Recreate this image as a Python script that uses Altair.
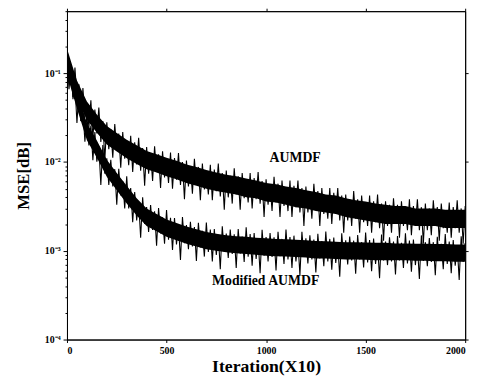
import altair as alt
import pandas as pd

iterations = list(range(0, 2001, 10))

aumdf = [
    0.21, 0.086, 0.125, 0.054, 0.116, 0.052, 0.075, 0.029, 0.068, 0.0315, 0.0456,
    0.0245, 0.0495, 0.0186, 0.039, 0.021, 0.041, 0.0168, 0.029, 0.0105, 0.028,
    0.0139, 0.0233, 0.0112, 0.0268, 0.0134, 0.0209, 0.0086, 0.0218, 0.0109, 0.0168,
    0.0092, 0.0198, 0.0077, 0.0167, 0.0094, 0.0187, 0.008, 0.0144, 0.0054, 0.0147,
    0.0074, 0.0126, 0.0061, 0.015, 0.0077, 0.0122, 0.0051, 0.0132, 0.0067, 0.0106,
    0.0058, 0.0128, 0.005, 0.0111, 0.0063, 0.0126, 0.0055, 0.01, 0.0038, 0.0104,
    0.0053, 0.009, 0.0044, 0.0109, 0.0055, 0.0088, 0.0037, 0.0096, 0.0049, 0.0077,
    0.0043, 0.0093, 0.0037, 0.0082, 0.0047, 0.0096, 0.0041, 0.0075, 0.0029, 0.008,
    0.004, 0.007, 0.0034, 0.0085, 0.0043, 0.0069, 0.0029, 0.0075, 0.0039, 0.0061,
    0.0035, 0.0075, 0.003, 0.0066, 0.0038, 0.0077, 0.0034, 0.0061, 0.0024, 0.0064,
    0.0033, 0.0056, 0.0028, 0.0068, 0.0035, 0.0057, 0.0024, 0.0062, 0.0032, 0.005,
    0.0028, 0.0062, 0.0024, 0.0054, 0.0031, 0.0062, 0.0027, 0.0051, 0.0019, 0.0053,
    0.0027, 0.0046, 0.0023, 0.0057, 0.0029, 0.0047, 0.0019, 0.0051, 0.0026, 0.0041,
    0.0023, 0.0051, 0.002, 0.0045, 0.0026, 0.0051, 0.0022, 0.0042, 0.0016, 0.0043,
    0.0022, 0.0038, 0.0019, 0.0047, 0.0023, 0.0038, 0.0016, 0.0042, 0.0021, 0.0034,
    0.0019, 0.0042, 0.0016, 0.0036, 0.0021, 0.0043, 0.0018, 0.0034, 0.0013, 0.0036,
    0.0019, 0.0033, 0.0016, 0.0039, 0.002, 0.0033, 0.0014, 0.0036, 0.0019, 0.003,
    0.0017, 0.0038, 0.0015, 0.0032, 0.0019, 0.0038, 0.0017, 0.0031, 0.0012, 0.0034,
    0.0017, 0.003, 0.0015, 0.0037, 0.0019, 0.0031, 0.0013, 0.0034, 0.0018, 0.0028,
    0.0016, 0.0035, 0.0014, 0.0031, 0.0018, 0.0037, 0.0016, 0.003, 0.0012, 0.0032,
]

modified = [
    0.16, 0.066, 0.113, 0.051, 0.074, 0.0275, 0.0645, 0.0288, 0.0388, 0.0169, 0.0352,
    0.0154, 0.0257, 0.0105, 0.0217, 0.0101, 0.015, 0.0055, 0.0155, 0.0074, 0.011,
    0.0055, 0.0106, 0.0053, 0.0083, 0.0033, 0.0084, 0.0042, 0.0061, 0.003, 0.0069,
    0.003, 0.0051, 0.0021, 0.0046, 0.0022, 0.0035, 0.0014, 0.004, 0.002, 0.0031,
    0.00163, 0.00328, 0.00172, 0.00278, 0.00114, 0.00303, 0.00157, 0.00238, 0.0012, 0.00288,
    0.00133, 0.00235, 0.00102, 0.00234, 0.00118, 0.00193, 0.00079, 0.0024, 0.00122, 0.00195,
    0.00104, 0.00212, 0.00112, 0.00185, 0.00077, 0.00207, 0.00109, 0.00168, 0.00086, 0.00208,
    0.00097, 0.00173, 0.00076, 0.00176, 0.0009, 0.00149, 0.00062, 0.00189, 0.00097, 0.00156,
    0.00083, 0.00173, 0.00092, 0.00153, 0.00064, 0.00176, 0.00093, 0.00145, 0.00075, 0.00184,
    0.00086, 0.00154, 0.00068, 0.00158, 0.00081, 0.00134, 0.00056, 0.00172, 0.00088, 0.00143,
    0.00076, 0.00158, 0.00085, 0.00142, 0.0006, 0.00164, 0.00087, 0.00136, 0.00071, 0.00174,
    0.0008, 0.00143, 0.00064, 0.00148, 0.00076, 0.00127, 0.00053, 0.00164, 0.00085, 0.00138,
    0.00072, 0.00149, 0.0008, 0.00134, 0.00057, 0.00155, 0.00082, 0.00129, 0.00067, 0.00165,
    0.00076, 0.00136, 0.00061, 0.00141, 0.00073, 0.00121, 0.00051, 0.00157, 0.00081, 0.00131,
    0.0007, 0.00145, 0.00078, 0.0013, 0.00055, 0.0015, 0.0008, 0.00125, 0.00065, 0.0016,
    0.00074, 0.00132, 0.00059, 0.00137, 0.00071, 0.00118, 0.00049, 0.00152, 0.00078, 0.00127,
    0.00069, 0.00142, 0.00076, 0.00127, 0.00054, 0.00147, 0.00078, 0.00123, 0.00064, 0.00157,
    0.00072, 0.0013, 0.00058, 0.00134, 0.00069, 0.00115, 0.00048, 0.00149, 0.00077, 0.00125,
    0.00067, 0.00139, 0.00075, 0.00125, 0.00053, 0.00144, 0.00077, 0.0012, 0.00062, 0.00154,
    0.00071, 0.00127, 0.00056, 0.00132, 0.00068, 0.00113, 0.00047, 0.00146, 0.00075, 0.00122,
]

band_iter = list(range(0, 2001, 50))
aumdf_low = [
    0.118, 0.051, 0.030, 0.0213, 0.0157, 0.0131, 0.011, 0.0095, 0.0083, 0.0076, 0.0069,
    0.0064, 0.0058, 0.0054, 0.005, 0.0047, 0.0045, 0.0043, 0.004, 0.0039, 0.0036,
    0.0035, 0.0033, 0.0031, 0.003, 0.0028, 0.0027, 0.0026, 0.0024, 0.0023, 0.0022,
    0.0021, 0.002, 0.002, 0.002, 0.0019, 0.0019, 0.0019, 0.0018, 0.0018, 0.0018,
]
aumdf_high = [
    0.19, 0.083, 0.048, 0.0343, 0.0254, 0.0212, 0.0178, 0.0154, 0.0133, 0.0122, 0.0112,
    0.0103, 0.0094, 0.0088, 0.0081, 0.0076, 0.0072, 0.0069, 0.0065, 0.0062, 0.0058,
    0.0056, 0.0053, 0.0051, 0.0048, 0.0046, 0.0043, 0.0042, 0.0039, 0.0037, 0.0036,
    0.0034, 0.0033, 0.0032, 0.0032, 0.003, 0.003, 0.003, 0.0029, 0.0029, 0.0029,
]
modified_low = [
    0.096, 0.04, 0.0176, 0.0112, 0.0068, 0.0048, 0.0034, 0.0025, 0.0019, 0.00166, 0.00144,
    0.00131, 0.0012, 0.00112, 0.00104, 0.001, 0.00096, 0.00094, 0.00092, 0.0009, 0.00088,
    0.00087, 0.00086, 0.00085, 0.00084, 0.00082, 0.00082, 0.00081, 0.0008, 0.0008, 0.00079,
    0.00078, 0.00078, 0.00078, 0.00078, 0.00077, 0.00077, 0.00076, 0.00076, 0.00075, 0.00075,
]
modified_high = [
    0.15, 0.0625, 0.0275, 0.0175, 0.0106, 0.0075, 0.0054, 0.0039, 0.003, 0.0026, 0.00225,
    0.00205, 0.00188, 0.00175, 0.00163, 0.00156, 0.0015, 0.00146, 0.00144, 0.0014, 0.00138,
    0.00136, 0.00135, 0.00133, 0.00131, 0.00129, 0.00128, 0.00126, 0.00125, 0.00125, 0.00124,
    0.00123, 0.00123, 0.00121, 0.00121, 0.0012, 0.0012, 0.00119, 0.00119, 0.00118, 0.00118,
]

label_text = ["AUMDF", "Modified AUMDF"]
label_x = [1146, 998]
label_y = [0.0112, 0.00045]

x_ticks = [0, 500, 1000, 1500, 2000]
y_major = [0.0001, 0.001, 0.01, 0.1]
y_ticks = [m * d for d in y_major for m in range(1, 10) if m * d <= 0.5]

df = pd.DataFrame({
    "iter": iterations * 2,
    "mse": aumdf + modified,
    "series": ["AUMDF"] * len(iterations) + ["Modified AUMDF"] * len(iterations),
})
bands = pd.DataFrame({
    "iter": band_iter * 2,
    "lo": aumdf_low + modified_low,
    "hi": aumdf_high + modified_high,
    "series": ["AUMDF"] * len(band_iter) + ["Modified AUMDF"] * len(band_iter),
})
lab = pd.DataFrame({"text": label_text, "x": label_x, "y": label_y})

FONT = "Liberation Serif"

L = "(log(datum.value)/LN10)"
is_major = f"abs({L} - round({L})) < 0.01"
ylabel = (f"({is_major}) ? (round({L}) == -1 ? '10⁻¹' : round({L}) == -2 ? '10⁻²' : "
          f"round({L}) == -3 ? '10⁻³' : '10⁻⁴') : ''")

xscale = alt.Scale(domain=[0, 2000], nice=False)
yscale = alt.Scale(type="log", domain=[0.0001, 0.5], nice=False)

band_layer = alt.Chart(bands).mark_area(color="black", opacity=1, clip=True).encode(
    x=alt.X("iter:Q", scale=xscale,
            axis=alt.Axis(values=x_ticks, format="d", title="Iteration(X10)", grid=False,
                          labelFont=FONT, labelFontWeight="bold", labelFontSize=10,
                          labelColor="black", tickColor="black", domainColor="black",
                          tickSize=3, labelPadding=3,
                          titleFont=FONT, titleFontWeight="bold", titleFontSize=18,
                          titleColor="black", titlePadding=2)),
    y=alt.Y("lo:Q", scale=yscale,
            axis=alt.Axis(values=y_ticks, labelExpr=ylabel, title="MSE[dB]", grid=False,
                          labelOverlap=False,
                          tickSize={"condition": {"test": is_major, "value": 4}, "value": 2},
                          labelFont=FONT, labelFontWeight="bold", labelFontSize=10,
                          labelColor="black", tickColor="black", domainColor="black",
                          labelPadding=3,
                          titleFont=FONT, titleFontWeight="bold", titleFontSize=17,
                          titleColor="black", titlePadding=12)),
    y2="hi:Q",
    detail="series:N",
)

lines = alt.Chart(df).mark_line(strokeWidth=1.1, color="black", clip=True).encode(
    x=alt.X("iter:Q", scale=xscale, axis=None),
    y=alt.Y("mse:Q", scale=yscale, axis=None),
    detail="series:N",
)

texts = alt.Chart(lab).mark_text(font=FONT, fontWeight="bold", fontSize=14, color="black").encode(
    x=alt.X("x:Q", scale=xscale,
            axis=alt.Axis(orient="top", values=x_ticks, labels=False, title=None, grid=False,
                          tickSize=3, tickColor="black", domainColor="black")),
    y=alt.Y("y:Q", scale=yscale,
            axis=alt.Axis(orient="right", values=y_major, labels=False, title=None, grid=False,
                          tickSize=3, tickColor="black", domainColor="black")),
    text="text:N",
)

chart = alt.layer(band_layer, lines, texts).resolve_axis(
    x="independent", y="independent"
).properties(
    width=405, height=334,
    autosize=alt.AutoSizeParams(type="none"),
    padding={"left": 60, "top": 0, "right": 10, "bottom": 43},
    background="white",
).configure_view(stroke="black", strokeWidth=1)

chart.save("out.html", embed_options={"renderer": "svg", "actions": False})
